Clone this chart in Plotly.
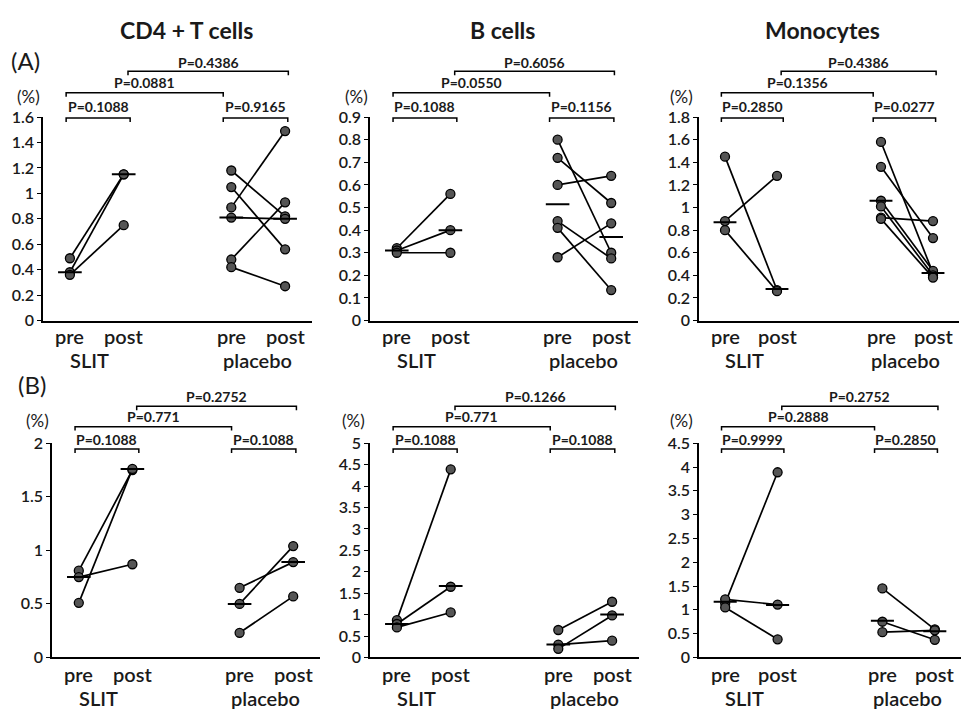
import plotly.graph_objects as go

W, H = 972, 719

# ---------------- data ----------------
titles = ["CD4 + T cells", "B cells", "Monocytes"]
row_labels = ["(A)", "(B)"]
cat_labels = ["pre", "post", "pre", "post"]
group_labels = ["SLIT", "placebo"]

# Row A
a1_slit_pre = [0.49, 0.38, 0.36]
a1_slit_post = [1.15, 1.15, 0.75]
a1_plac_pre = [1.18, 1.05, 0.89, 0.81, 0.48, 0.42]
a1_plac_post = [0.82, 0.56, 1.49, 0.80, 0.93, 0.27]
a1_medians = [0.38, 1.15, 0.81, 0.80]
a1_pvals = ["P=0.1088", "P=0.9165", "P=0.0881", "P=0.4386"]
a1_yaxis = [1.6, 0.2]

a2_slit_pre = [0.32, 0.31, 0.30]
a2_slit_post = [0.56, 0.40, 0.30]
a2_plac_pre = [0.80, 0.72, 0.60, 0.44, 0.41, 0.28]
a2_plac_post = [0.30, 0.52, 0.64, 0.275, 0.135, 0.43]
a2_medians = [0.31, 0.40, 0.515, 0.37]
a2_pvals = ["P=0.1088", "P=0.1156", "P=0.0550", "P=0.6056"]
a2_yaxis = [0.9, 0.1]

a3_slit_pre = [1.45, 0.88, 0.80]
a3_slit_post = [0.27, 1.28, 0.26]
a3_plac_pre = [1.58, 1.36, 1.06, 1.01, 0.91, 0.90]
a3_plac_post = [0.42, 0.73, 0.44, 0.40, 0.88, 0.38]
a3_medians = [0.87, 0.28, 1.06, 0.42]
a3_pvals = ["P=0.2850", "P=0.0277", "P=0.1356", "P=0.4386"]
a3_yaxis = [1.8, 0.2]

# Row B
b1_slit_pre = [0.81, 0.51, 0.75]
b1_slit_post = [1.75, 1.76, 0.87]
b1_plac_pre = [0.65, 0.50, 0.23]
b1_plac_post = [0.89, 1.04, 0.57]
b1_medians = [0.75, 1.76, 0.50, 0.89]
b1_pvals = ["P=0.1088", "P=0.1088", "P=0.771", "P=0.2752"]
b1_yaxis = [2, 0.5]

b2_slit_pre = [0.87, 0.78, 0.70]
b2_slit_post = [4.39, 1.65, 1.05]
b2_plac_pre = [0.64, 0.30, 0.20]
b2_plac_post = [1.30, 0.39, 0.98]
b2_medians = [0.78, 1.67, 0.30, 1.00]
b2_pvals = ["P=0.1088", "P=0.1088", "P=0.771", "P=0.1266"]
b2_yaxis = [5, 0.5]

b3_slit_pre = [1.14, 1.22, 1.05]
b3_slit_post = [3.89, 1.11, 0.38]
b3_plac_pre = [1.45, 0.75, 0.53]
b3_plac_post = [0.59, 0.37, 0.57]
b3_medians = [1.17, 1.10, 0.77, 0.55]
b3_pvals = ["P=0.9999", "P=0.2850", "P=0.2888", "P=0.2752"]
b3_yaxis = [4.5, 0.5]

cat_x = [1, 2, 4, 5]

panels = [
    dict(sp=a1_slit_pre, so=a1_slit_post, pp=a1_plac_pre, po=a1_plac_post, med=a1_medians, p=a1_pvals, ya=a1_yaxis),
    dict(sp=a2_slit_pre, so=a2_slit_post, pp=a2_plac_pre, po=a2_plac_post, med=a2_medians, p=a2_pvals, ya=a2_yaxis),
    dict(sp=a3_slit_pre, so=a3_slit_post, pp=a3_plac_pre, po=a3_plac_post, med=a3_medians, p=a3_pvals, ya=a3_yaxis),
    dict(sp=b1_slit_pre, so=b1_slit_post, pp=b1_plac_pre, po=b1_plac_post, med=b1_medians, p=b1_pvals, ya=b1_yaxis),
    dict(sp=b2_slit_pre, so=b2_slit_post, pp=b2_plac_pre, po=b2_plac_post, med=b2_medians, p=b2_pvals, ya=b2_yaxis),
    dict(sp=b3_slit_pre, so=b3_slit_post, pp=b3_plac_pre, po=b3_plac_post, med=b3_medians, p=b3_pvals, ya=b3_yaxis),
]

# ---------------- layout geometry (pixels) ----------------
x_dom_px = [(43, 312), (370, 638), (699, 959), (52, 320), (370, 639), (699, 961)]
y_dom_px = [(110, 319), (110, 319), (110, 319), (445, 665), (445, 665), (445, 665)]
# bracket rows: (b1 line, b1 label, b3 line, b3 label, b4 line, b4 label)
brk_px = [(111, 99, 85, 74, 63, 54), (451, 441, 428, 418, 407, 397)]
# (centre of pre/post text, centre of group text)
cat_y_px = [(335, 359.5), (682.5, 707)]
pct_px = [(28, 88.5), (356, 88.5), (681, 88.5), (37, 422), (353, 422), (681, 422)]


def py(p):
    return 1 - p / H


def px(p):
    return p / W


FONT = "Lato"
INK = "#1a1a1a"
SEMI = 600

fig = go.Figure()
shapes = []
annotations = []
layout_axes = {}

for i, pn in enumerate(panels):
    k = "" if i == 0 else str(i + 1)
    xr, yr = "x" + k, "y" + k
    row = 0 if i < 3 else 1
    line_style = dict(color="black", width=1.7)
    marker_style = dict(size=9, color="#555555", line=dict(color="black", width=1.3))
    for a, b in zip(pn["sp"], pn["so"]):
        fig.add_trace(go.Scatter(x=[cat_x[0], cat_x[1]], y=[a, b], mode="lines+markers",
                                 line=line_style, marker=marker_style, xaxis=xr, yaxis=yr,
                                 showlegend=False, hoverinfo="skip"))
    for a, b in zip(pn["pp"], pn["po"]):
        fig.add_trace(go.Scatter(x=[cat_x[2], cat_x[3]], y=[a, b], mode="lines+markers",
                                 line=line_style, marker=marker_style, xaxis=xr, yaxis=yr,
                                 showlegend=False, hoverinfo="skip"))
    for cx, m in zip(cat_x, pn["med"]):
        fig.add_trace(go.Scatter(x=[cx - 0.22, cx + 0.22], y=[m, m], mode="lines",
                                 line=dict(color="black", width=2), xaxis=xr, yaxis=yr,
                                 showlegend=False, hoverinfo="skip"))

    xd, yd = x_dom_px[i], y_dom_px[i]
    layout_axes["xaxis" + k] = dict(domain=[px(xd[0]), px(xd[1])], range=[0.5, 5.5],
                                    showline=True, linecolor="black", linewidth=1.6,
                                    showgrid=False, zeroline=False, showticklabels=False,
                                    ticks="", anchor=yr, fixedrange=True)
    layout_axes["yaxis" + k] = dict(domain=[py(yd[1]), py(yd[0])], range=[0, pn["ya"][0]],
                                    dtick=pn["ya"][1], tick0=0,
                                    showline=True, linecolor="black", linewidth=1.6,
                                    showgrid=False, zeroline=False, ticks="outside",
                                    ticklen=4, tickwidth=1.3, tickcolor="black",
                                    tickfont=dict(family=FONT, size=16, color=INK, weight=SEMI),
                                    anchor=xr, fixedrange=True)

    b = brk_px[row]
    tick = 4
    brackets = [
        (0.93, 2.12, b[0], b[1], pn["p"][0]),
        (3.85, 5.05, b[0], b[1], pn["p"][1]),
        (0.93, 3.85, b[2], b[3], pn["p"][2]),
        (2.08, 5.06, b[4], b[5], pn["p"][3]),
    ]
    for x0, x1, ly, ty, txt in brackets:
        shapes.append(dict(type="path", xref=xr, yref="paper",
                           path=f"M {x0},{py(ly + tick)} L {x0},{py(ly)} L {x1},{py(ly)} L {x1},{py(ly + tick)}",
                           line=dict(color="black", width=1.5)))
        annotations.append(dict(x=(x0 + x1) / 2, y=py(ty), xref=xr, yref="paper", text=txt,
                                showarrow=False, xanchor="center", yanchor="middle",
                                font=dict(family=FONT, size=14, color=INK, weight="bold")))

    cy = cat_y_px[row]
    for cx, lab in zip(cat_x, cat_labels):
        annotations.append(dict(x=cx, y=py(cy[0]), xref=xr, yref="paper", text=lab,
                                showarrow=False, xanchor="center", yanchor="middle", borderpad=0,
                                font=dict(family=FONT, size=20, color=INK, weight=SEMI)))
    for gx, lab in zip([1.37, 4.48], group_labels):
        annotations.append(dict(x=gx, y=py(cy[1]), xref=xr, yref="paper", text=lab,
                                showarrow=False, xanchor="center", yanchor="middle", borderpad=0,
                                font=dict(family=FONT, size=20, color=INK, weight=SEMI)))

    pc = pct_px[i]
    annotations.append(dict(x=px(pc[0]), y=py(pc[1]), xref="paper", yref="paper", text="(%)",
                            showarrow=False, xanchor="center", yanchor="middle", borderpad=0,
                            font=dict(family=FONT, size=17, color=INK)))

for cx, t in zip([186, 502, 822], titles):
    annotations.append(dict(x=px(cx), y=py(21), xref="paper", yref="paper", text=t,
                            showarrow=False, xanchor="center", yanchor="middle",
                            font=dict(family=FONT, size=23, color=INK, weight="bold")))
for (lx, ly), t in zip([(9, 52), (16, 385)], row_labels):
    annotations.append(dict(x=px(lx), y=py(ly), xref="paper", yref="paper", text=t,
                            showarrow=False, xanchor="left", yanchor="middle",
                            font=dict(family=FONT, size=24, color=INK)))

fig.update_layout(width=W, height=H, margin=dict(l=0, r=0, t=0, b=0),
                  paper_bgcolor="white", plot_bgcolor="white",
                  shapes=shapes, annotations=annotations, **layout_axes)

fig.write_html("out.html")
